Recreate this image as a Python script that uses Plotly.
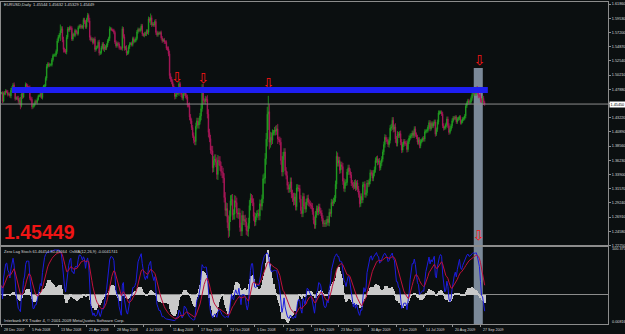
import numpy as np
import pandas as pd
import plotly.graph_objects as go

# ---------------- data ----------------
first_bar = "2007-12-28"
# daily closes in pips (14725 -> 1.4725), one row per month
closes_pips = [
    14725, 14590,
    14730, 14720, 14760, 14745, 14700, 14710, 14680, 14770, 14810, 14860, 14790, 14630, 14650, 14640, 14590, 14600, 14520, 14710, 14660, 14780, 14760, 14870, 14840,
    14820, 14820, 14640, 14620, 14500, 14510, 14550, 14590, 14570, 14620, 14680, 14680, 14720, 14650, 14790, 14840, 14840, 14970, 15160, 15200, 15180,
    15190, 15190, 15270, 15340, 15350, 15350, 15410, 15580, 15650, 15680, 15750, 15780, 15600, 15440, 15420, 15400, 15640, 15780, 15760, 15800, 15790,
    15610, 15690, 15670, 15750, 15720, 15700, 15800, 15830, 15810, 15820, 15800, 15930, 15890, 15810, 15930, 16000, 15910, 15640, 15600, 15610, 15550, 15610,
    15440, 15470, 15490, 15560, 15380, 15390, 15470, 15530, 15450, 15480, 15460, 15510, 15580, 15620, 15780, 15780, 15760, 15750, 15720, 15560, 15500, 15540,
    15530, 15470, 15460, 15460, 15780, 15650, 15460, 15470, 15380, 15390, 15480, 15530, 15540, 15520, 15620, 15570, 15590, 15620, 15730, 15770, 15750,
    15770, 15830, 15690, 15670, 15700, 15690, 15740, 15720, 15940, 15910, 15960, 15850, 15860, 15840, 15900, 15720, 15680, 15710, 15700, 15720, 15630, 15580, 15600,
    15560, 15560, 15460, 15450, 15370, 15010, 14950, 14910, 14840, 14780, 14670, 14700, 14740, 14720, 14880, 14750, 14700, 14640, 14720, 14760, 14680,
    14660, 14530, 14520, 14330, 14270, 14160, 14030, 13950, 13930, 14180, 14270, 14200, 14260, 14350, 14470, 14820, 14600, 14590, 14630, 14620, 14380, 14080,
    13980, 13790, 13780, 13500, 13620, 13640, 13590, 13390, 13620, 13610, 13530, 13440, 13420, 13330, 13010, 12800, 12830, 12600, 12470, 12700, 12960, 12980, 12730,
    12740, 12960, 12930, 12760, 12740, 12760, 12520, 12460, 12720, 12630, 12650, 12610, 12470, 12460, 12590, 12880, 13000, 12990, 12930, 12700,
    12610, 12700, 12740, 12750, 12710, 12910, 12870, 12990, 13320, 13330, 13650, 13970, 14380, 14420, 13920, 14000, 13950, 14070, 14080, 14120, 14100, 14140, 13970,
    13960, 13920, 13620, 13430, 13690, 13760, 13450, 13370, 13210, 13150, 13170, 13270, 13070, 13010, 12960, 13020, 12860, 13170, 13170, 13160, 12990, 12800,
    12750, 13030, 12870, 12820, 12940, 13000, 12930, 12910, 12880, 12870, 12780, 12640, 12560, 12730, 12830, 12770, 12860, 12790, 12760, 12670,
    12580, 12590, 12580, 12600, 12660, 12600, 12770, 12750, 12930, 12920, 12960, 13000, 13230, 13690, 13580, 13620, 13460, 13550, 13520, 13280, 13160, 13250,
    13260, 13430, 13500, 13440, 13380, 13250, 13220, 13190, 13260, 13170, 13250, 13150, 13060, 12910, 13030, 12970, 13220, 13230, 13060, 13090, 13250, 13230,
    13280, 13420, 13410, 13330, 13410, 13470, 13620, 13650, 13590, 13610, 13500, 13580, 13640, 13760, 13880, 14000, 13960, 13930, 13880, 13950, 14150,
    14170, 14280, 14130, 14170, 13970, 13900, 14050, 14030, 14060, 13920, 13790, 13880, 13930, 13900, 13900, 13800, 13930, 13990, 14020, 14030, 14070, 14030,
    14140, 14050, 14000, 13920, 13960, 13860, 13930, 13950, 13980, 13970, 14090, 14100, 14110, 14170, 14240, 14140, 14230, 14180, 14230, 14250, 14050, 14130, 14250,
    14400, 14410, 14410, 14380, 14190, 14150, 14160, 14210, 14300, 14190, 14080, 14130, 14190, 14270, 14320, 14310, 14330, 14250, 14300, 14310, 14330,
    14240, 14260, 14300, 14310, 14350, 14510, 14560, 14600, 14570, 14580, 14640, 14700, 14730, 14710, 14720, 14790, 14750, 14680, 14680, 14610, 14590, 14640,
    14570, 14545,
]
# estimated wick length beyond the body, in 10-pip units, one row per month
wick_tens = [
    2, 3,
    2, 3, 3, 2, 3, 2, 3, 4, 3, 3, 4, 3, 2, 3, 4, 5, 6, 3, 3, 2, 3, 3, 2,
    3, 2, 3, 3, 4, 3, 2, 3, 2, 3, 2, 2, 3, 2, 3, 2, 3, 3, 4, 3, 3,
    3, 2, 3, 3, 2, 3, 3, 4, 3, 3, 10, 4, 4, 5, 3, 3, 4, 3, 3, 3, 3,
    3, 3, 2, 3, 2, 3, 3, 2, 3, 3, 2, 3, 3, 3, 3, 4, 3, 5, 3, 3, 3, 2,
    4, 3, 2, 3, 4, 3, 3, 3, 3, 5, 3, 3, 3, 3, 4, 3, 2, 2, 3, 3, 3, 3,
    3, 3, 3, 3, 4, 3, 4, 3, 4, 3, 3, 3, 2, 3, 3, 3, 2, 3, 3, 3, 2,
    3, 3, 3, 2, 3, 3, 3, 3, 4, 3, 7, 4, 3, 3, 3, 4, 3, 3, 2, 2, 3, 3, 2,
    3, 3, 3, 3, 4, 5, 4, 4, 4, 4, 5, 4, 4, 3, 4, 3, 4, 3, 4, 4, 4,
    4, 4, 3, 5, 5, 4, 4, 5, 6, 6, 5, 5, 6, 5, 7, 5, 6, 4, 5, 4, 7, 8,
    6, 6, 7, 8, 7, 8, 8, 8, 9, 7, 8, 7, 9, 8, 8, 9, 10, 9, 12, 10, 9, 8, 9,
    8, 9, 8, 8, 7, 8, 7, 8, 8, 7, 7, 8, 7, 8, 9, 9, 8, 7, 6, 7,
    7, 6, 6, 6, 7, 7, 6, 7, 7, 8, 9, 10, 12, 26, 12, 9, 8, 6, 4, 5, 7, 6, 8,
    4, 5, 7, 7, 7, 6, 6, 6, 7, 6, 6, 7, 7, 7, 8, 7, 6, 6, 6, 5, 6, 6,
    6, 6, 5, 6, 5, 5, 6, 5, 5, 5, 5, 6, 6, 6, 5, 5, 5, 5, 5, 5,
    5, 5, 5, 5, 5, 5, 6, 5, 6, 5, 5, 5, 6, 8, 6, 6, 6, 5, 5, 6, 5, 6,
    5, 5, 5, 5, 5, 5, 5, 5, 4, 5, 4, 5, 5, 6, 5, 5, 5, 4, 5, 5, 5, 5,
    4, 5, 4, 5, 5, 5, 5, 4, 5, 4, 5, 4, 5, 4, 5, 5, 4, 4, 4, 5, 5,
    5, 5, 5, 4, 6, 5, 5, 4, 4, 5, 5, 4, 4, 4, 4, 5, 4, 4, 4, 4, 4, 4,
    4, 4, 3, 4, 4, 4, 4, 3, 3, 4, 4, 3, 3, 3, 4, 4, 3, 3, 3, 4, 4, 3, 4,
    4, 3, 3, 3, 4, 4, 3, 3, 4, 4, 4, 3, 3, 4, 3, 3, 3, 3, 3, 3, 3,
    3, 3, 3, 3, 3, 4, 3, 3, 3, 3, 3, 4, 3, 3, 3, 4, 5, 4, 3, 4, 3, 4,
    4, 3,
]
date_labels = ["28 Dec 2007", "5 Feb 2008", "13 Mar 2008", "21 Apr 2008", "28 May 2008",
               "4 Jul 2008", "11 Aug 2008", "17 Sep 2008", "24 Oct 2008", "1 Dec 2008",
               "7 Jan 2009", "13 Feb 2009", "23 Mar 2009", "30 Apr 2009", "7 Jun 2009",
               "14 Jul 2009", "20 Aug 2009", "27 Sep 2009"]
price_ticks = [1.61860, 1.59530, 1.57200, 1.54870, 1.52540, 1.50210, 1.47880, 1.45550,
               1.43220, 1.40890, 1.38560, 1.36230, 1.33900, 1.31570, 1.29240, 1.26910,
               1.24580, 1.22250]
price_range = [1.2225, 1.6219]
# drawn objects (bar index, price)
band_bars = [10, 463]
band_price = 1.4776
arrow_bars = [167, 192, 254, 455, 454]
arrow_prices = [1.4972, 1.4940, 1.4874, 1.5235, 1.2365]
rect_bars = [449.6, 458.2]
rect_top_price = 1.5137

title_text = "EURUSD,Daily  1.45544 1.45632 1.45329 1.45449"
ind_text = "Zero Lag Stoch 61.46454 80.49664  OsMA(12,26,9) -0.0041741"
copy_text = "Interbank FX Trader 4, © 2001-2009 MetaQuotes Software Corp."
big_text = "1.45449"
ind_max_label = "100.375"
ind_min_label = "0.00816"

# ---------------- derived ----------------
close = np.array(closes_pips) / 10000.0
n = len(close)
opn = np.r_[close[0], close[:-1]]
wick = np.array(wick_tens) * 10 / 10000.0
high = np.maximum(opn, close) + wick
low = np.minimum(opn, close) - wick
idx = np.arange(n)
dates = pd.bdate_range(first_bar, periods=n)
label_pos = dates.searchsorted(pd.to_datetime(date_labels, format="%d %b %Y"))

cs = pd.Series(close)
macd = cs.ewm(span=12, adjust=False).mean() - cs.ewm(span=26, adjust=False).mean()
osma = (macd - macd.rolling(9, min_periods=1).mean()).values
hh = pd.Series(high).rolling(14, min_periods=1).max()
ll = pd.Series(low).rolling(14, min_periods=1).min()
k_raw = 100 * (cs - ll) / (hh - ll)
stoch_main = k_raw.ewm(span=3, adjust=False).mean().values
stoch_sig = pd.Series(stoch_main).ewm(span=10, adjust=False).mean().values

# ---------------- figure ----------------
BG = "#0b0f10"
FR = "#8c8c8c"
TX = "#d8d8d8"
fig = go.Figure()
fig.add_trace(go.Candlestick(
    x=idx, open=opn, high=high, low=low, close=close, xaxis="x", yaxis="y",
    increasing=dict(line=dict(color="#22a322", width=0.8), fillcolor="#22a322"),
    decreasing=dict(line=dict(color="#b0185c", width=0.8), fillcolor="#b0185c"),
    whiskerwidth=0, hoverinfo="skip"))
fig.add_trace(go.Scatter(
    x=arrow_bars, y=arrow_prices, mode="text", text=["⇩"] * len(arrow_bars),
    textfont=dict(color="#ff1414", size=14, family="DejaVu Sans"),
    xaxis="x", yaxis="y", hoverinfo="skip"))
fig.add_trace(go.Bar(x=idx, y=osma, xaxis="x2", yaxis="y2", width=1.0,
                     marker=dict(color="#c9c9c9", line=dict(width=0)), hoverinfo="skip"))
fig.add_trace(go.Scatter(x=idx, y=stoch_main, xaxis="x2", yaxis="y3", mode="lines",
                         line=dict(color="#1c1ce0", width=1), hoverinfo="skip"))
fig.add_trace(go.Scatter(x=idx, y=stoch_sig, xaxis="x2", yaxis="y3", mode="lines",
                         line=dict(color="#c0103c", width=1), hoverinfo="skip"))

pos_max = float(np.nanmax(osma))
o_top = pos_max * 1.07
o_bot = -o_top * 29.0 / 48.0

xr = [-0.48, 577.4]
fig.update_layout(
    width=625, height=334, margin=dict(l=1, r=17, t=2, b=10, autoexpand=False),
    paper_bgcolor=BG, plot_bgcolor=BG, showlegend=False, bargap=0,
    xaxis=dict(domain=[0, 1], anchor="y", range=xr, showticklabels=False, showgrid=False,
               zeroline=False, showline=True, mirror=True, linecolor=FR, linewidth=1,
               rangeslider=dict(visible=False), ticks="", automargin=False),
    yaxis=dict(domain=[0.2438, 1], anchor="x", side="right", range=price_range,
               tickvals=price_ticks, ticktext=[f"{v:.5f}" for v in price_ticks],
               tickfont=dict(size=3.8, color=TX, family="Liberation Sans"),
               ticks="outside", ticklen=2, tickcolor=FR, showgrid=False, zeroline=False,
               showline=True, mirror=True, linecolor=FR, linewidth=1, automargin=False),
    xaxis2=dict(domain=[0, 1], anchor="y2", range=xr, matches="x", showgrid=False,
                zeroline=False, showline=True, mirror=True, linecolor=FR, linewidth=1,
                tickvals=list(label_pos), showticklabels=False, ticks="outside",
                ticklen=2, tickcolor=FR, automargin=False),
    yaxis2=dict(domain=[0, 0.2391], anchor="x2", range=[o_bot, o_top], showticklabels=False,
                showgrid=False, zeroline=True, zerolinecolor=FR, zerolinewidth=1,
                showline=True, mirror=True, linecolor=FR, linewidth=1, ticks="",
                automargin=False),
    yaxis3=dict(overlaying="y2", anchor="x2", range=[0, 100.375], visible=False),
)

# shapes
fig.add_shape(type="rect", xref="x", yref="y", x0=rect_bars[0], x1=rect_bars[1],
              y0=price_range[0], y1=rect_top_price, fillcolor="#7b8999",
              line=dict(width=0), layer="below")
fig.add_shape(type="rect", xref="x2", yref="y2 domain", x0=rect_bars[0], x1=rect_bars[1],
              y0=0, y1=1, fillcolor="#7b8999", line=dict(width=0), layer="below")
fig.add_shape(type="line", xref="x", yref="y", x0=band_bars[0], x1=band_bars[1],
              y0=band_price, y1=band_price, line=dict(color="#1e1ef2", width=6))
fig.add_shape(type="line", xref="x domain", yref="y", x0=0, x1=1,
              y0=close[-1], y1=close[-1], line=dict(color="#8c8c8c", width=1))

# texts
def px2paper(px, py):
    return (px - 1) / 607.0, (324 - py) / 322.0

# date labels (left-aligned after each tick, MT4 style)
_, date_y = px2paper(0, 329.5)
for pos, lab in zip(label_pos, date_labels):
    fig.add_annotation(x=pos, y=date_y, xref="x2", yref="paper", text=lab, showarrow=False,
                       xanchor="left", yanchor="middle", xshift=0.5,
                       font=dict(size=3.6, color=TX, family="Liberation Sans"))

ax, ay = px2paper(2, 5)
fig.add_annotation(x=ax, y=ay, xref="paper", yref="paper", text=title_text, showarrow=False,
                   xanchor="left", yanchor="middle",
                   font=dict(size=4, color=TX, family="Liberation Sans"))
ax, ay = px2paper(2, 251)
fig.add_annotation(x=ax, y=ay, xref="paper", yref="paper", text=ind_text, showarrow=False,
                   xanchor="left", yanchor="middle",
                   font=dict(size=4, color=TX, family="Liberation Sans"))
ax, ay = px2paper(2, 320.5)
fig.add_annotation(x=ax, y=ay, xref="paper", yref="paper", text=copy_text, showarrow=False,
                   xanchor="left", yanchor="middle",
                   font=dict(size=4.2, color=TX, family="Liberation Sans"))
ax, ay = px2paper(2, 232)
fig.add_annotation(x=ax, y=ay, xref="paper", yref="paper", text=big_text, showarrow=False,
                   xanchor="left", yanchor="middle",
                   font=dict(size=19.5, color="#f01414", family="Liberation Sans", weight="bold"))
ax, ay = px2paper(610, 249)
fig.add_annotation(x=ax, y=ay, xref="paper", yref="paper", text=ind_max_label, showarrow=False,
                   xanchor="left", yanchor="middle",
                   font=dict(size=3.8, color=TX, family="Liberation Sans"))
ax, ay = px2paper(610, 321.5)
fig.add_annotation(x=ax, y=ay, xref="paper", yref="paper", text=ind_min_label, showarrow=False,
                   xanchor="left", yanchor="middle",
                   font=dict(size=3.8, color=TX, family="Liberation Sans"))
fig.add_annotation(x=1.0, y=close[-1], xref="paper", yref="y", text=f"{close[-1]:.5f}",
                   showarrow=False, xanchor="left", yanchor="middle", xshift=1,
                   bgcolor="#ffffff", borderpad=0.5,
                   font=dict(size=3.8, color="#000000", family="Liberation Sans"))

fig.write_html("out.html")
